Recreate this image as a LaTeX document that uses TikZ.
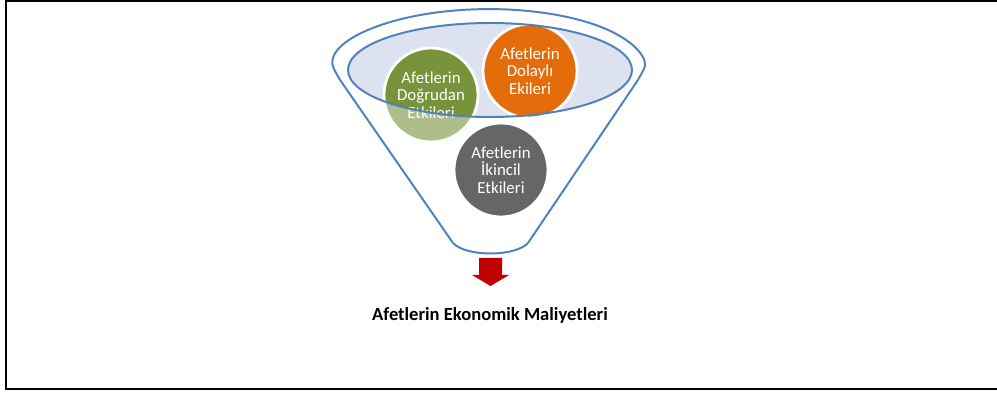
\documentclass[tikz,border=0pt]{standalone}
\usepackage{fontspec}
\setmainfont{Carlito}
\definecolor{funnelblue}{HTML}{4F81BD}
\definecolor{rimfill}{HTML}{DDE3EE}
\definecolor{cgreen}{HTML}{77933C}
\definecolor{corange}{HTML}{E46C0A}
\definecolor{cgray}{HTML}{666666}
\definecolor{cred}{HTML}{C00000}
\tikzset{
  bubble/.style={circle, draw=white, line width=2pt, minimum size=2.35cm, inner sep=0pt,
    text=white, align=center, font=\fontsize{12}{12.6}\selectfont},
  outline/.style={draw=funnelblue, line width=1.4pt},
}
\begin{document}
\begin{tikzpicture}[x=0.025cm,y=0.025cm]
\useasboundingbox (0,0) rectangle (997,394);
% frame
\draw[line width=1pt] (1005,393) -- (6,393) -- (6,5) -- (1005,5);
% funnel body
\path[fill=white] (453,151) -- (337.3,318)
  arc[start angle=190, end angle=-10, x radius=154, y radius=57]
  -- (528,151) .. controls (515,137) and (466,137) .. (453,151) -- cycle;
% rim opening
\fill[rimfill] (490,324) ellipse [x radius=142, y radius=47];
% circles under the funnel
\node[bubble, fill=cgreen] (direct) at (431,299) {Afetlerin\\Doğrudan\\Etkileri};
\node[bubble, fill=corange] (indirect) at (530,323) {Afetlerin\\Dolaylı\\Ekileri};
% fade part of green circle outside the opening
\begin{scope}
  \clip (431,299) circle [radius=48];
  \fill[white, opacity=0.4, even odd rule] (431,299) circle [radius=48]
     (490,324) ellipse [x radius=142, y radius=47];
\end{scope}
% outlines
\draw[outline, rounded corners=6pt] (453,151) -- (337.3,318)
  arc[start angle=190, end angle=-10, x radius=154, y radius=57]
  -- (528,151);
\draw[outline] (528,151) .. controls (515,137) and (466,137) .. (453,151);
\draw[outline] (490,324) ellipse [x radius=142, y radius=47];
% gray circle on top
\node[bubble, fill=cgray] (secondary) at (501,224) {Afetlerin\\İkincil\\Etkileri};
% arrow
\fill[cred] (479,136) -- (502,136) -- (502,119) -- (509,119) -- (490.5,108) -- (472,119) -- (479,119) -- cycle;
% result label
\node[font=\bfseries\fontsize{13.2}{15}\selectfont] (cost) at (490,79) {Afetlerin Ekonomik Maliyetleri};
\end{tikzpicture}
\end{document}
